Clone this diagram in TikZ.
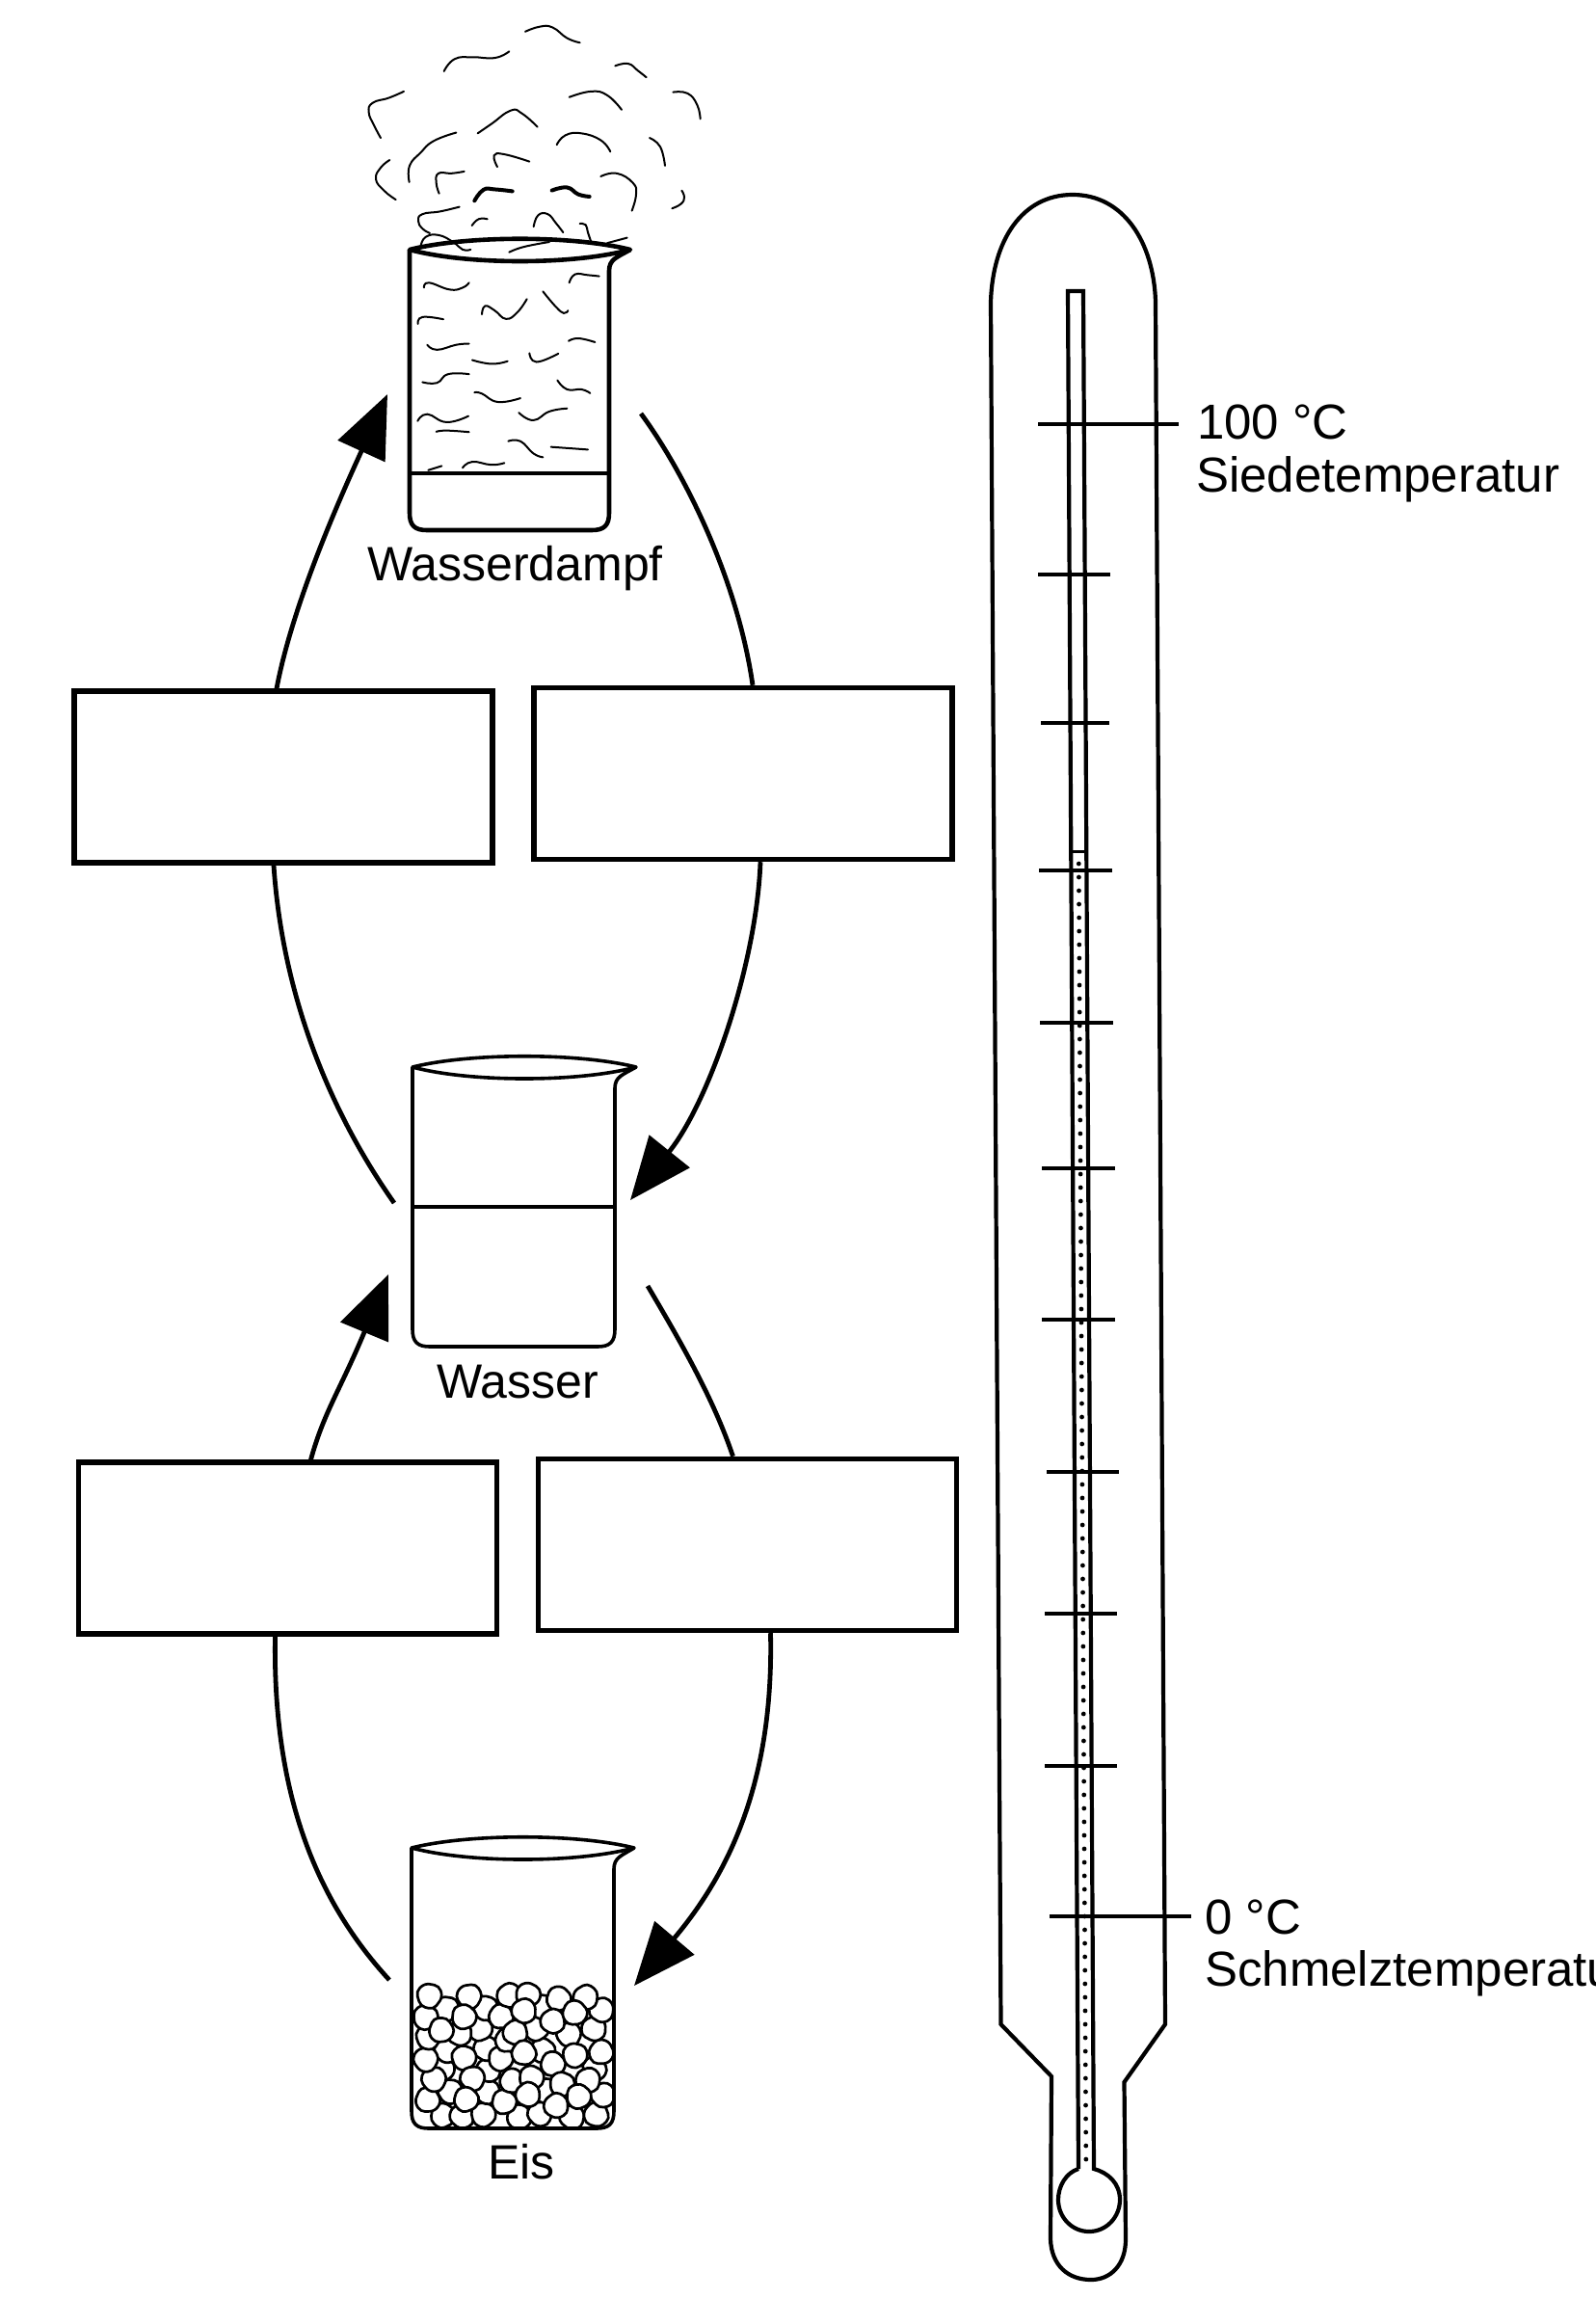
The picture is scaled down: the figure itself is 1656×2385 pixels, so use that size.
\documentclass[tikz,border=0pt]{standalone}
\usepackage{fontspec}
\setmainfont{Liberation Sans}
\usetikzlibrary{arrows.meta,calc}
\newcommand\glassbeaker[6]{%
  \draw[line width=#6pt,line join=round] (#1,#3) -- (#1,#5-18) .. controls (#1,#5-5) and (#1+5,#5) .. (#1+18,#5)
    -- (#2-18,#5) .. controls (#2-5,#5) and (#2,#5-5) .. (#2,#5-18)
    -- (#2,#3+22) .. controls (#2,#3+10) and (#2+8,#3+8) .. (#4,#3);
  \draw[line width=#6pt,line join=round] (#1,#3) .. controls (#1+60,#3-15) and (#4-60,#3-15) .. (#4,#3)
    .. controls (#4-60,#3+16) and (#1+60,#3+16) .. cycle;
}
\newcommand\wisp[1]{\draw[wisp] plot[smooth,tension=0.8] coordinates {#1};}
\newcommand\wispthick[1]{\draw[wisp,line width=4pt] plot[smooth,tension=0.8] coordinates {#1};}
\tikzset{
  wisp/.style={line width=2pt,line cap=round},
  blank/.style={draw,line width=5.4pt,inner sep=0pt,minimum width=434pt,minimum height=178pt},
  curve/.style={line width=4.8pt},
  headed/.style={curve,-{Triangle[length=65pt,width=53pt]}},
  caption/.style={anchor=base west,inner sep=0pt,text=black},
  tube/.style={line width=4.2pt,line join=miter},
  tick/.style={line width=4pt},
  lump/.style={draw,fill=white,line width=2.7pt,rounded corners=5pt}
}
\begin{document}
\begin{tikzpicture}[x=1pt,y=-1pt]
\useasboundingbox (0,0) rectangle (1656,2385);
\fill[white] (0,0) rectangle (1656,2385);
\clip (0,0) rectangle (1656,2385);

% blank boxes
\node[blank] (b1) at (294,806) {};
\node[blank] (b2) at (771,802.5) {};
\node[blank] (b3) at (298.5,1606) {};
\node[blank] (b4) at (775.5,1602.5) {};

% free ends
\coordinate (t1) at (402,409);
\coordinate (s2) at (665,429);
\coordinate (e1) at (409,1248);
\coordinate (t2) at (654,1245);
\coordinate (t3) at (403,1322);
\coordinate (s4) at (672,1334);
\coordinate (e3) at (404,2054);
\coordinate (t4) at (658,2060);

% connectors
\draw[headed] ([xshift=-7pt]b1.north) .. controls +(16,-84) and (348,527) .. (t1);
\draw[curve] (s2) .. controls (710,490) and (765,600) .. ([xshift=10pt]b2.north);
\draw[curve] ([xshift=-10pt]b1.south) .. controls (293,1030) and (340,1150) .. (e1);
\draw[headed] ([xshift=18pt]b2.south) .. controls (785,1000) and (736,1143) .. (t2);
\draw[headed] ([xshift=24pt]b3.north) .. controls (336,1465) and (353,1442) .. (t3);
\draw[curve] (s4) .. controls (705,1390) and (740,1450) .. ([xshift=-15pt]b4.north);
\draw[curve] ([xshift=-13pt]b3.south) .. controls (283,1850) and (322,1965) .. (e3);
\draw[headed] ([xshift=24pt]b4.south) .. controls (803,1850) and (755,1945) .. (t4);

% steam and vapour, in zoom coordinates
\begin{scope}[shift={(340,0)},x=0.33333pt,y=-0.39526pt]
\wisp{(615,83)(660,70)(700,72)(745,100)(785,112)}
\wisp{(362,187)(395,155)(450,150)(520,152)(565,135)}
\wisp{(895,173)(935,167)(965,185)(992,203)}
\wisp{(237,240)(190,257)(140,270)(128,295)(145,330)(165,362)}
\wisp{(752,255)(820,240)(870,250)(915,288)}
\wisp{(1075,242)(1120,245)(1150,275)(1160,312)}
\wisp{(467,350)(510,325)(570,290)(605,298)(653,333)}
\wisp{(400,348)(330,370)(290,400)(255,435)(254,478)}
\wisp{(713,380)(740,355)(790,350)(850,368)(880,398)}
\wisp{(1002,362)(1035,385)(1050,435)}
\wisp{(193,420)(165,440)(150,470)(175,500)(212,524)}
\wisp{(528,438)(518,408)(550,405)(628,424)}
\wisp{(425,450)(385,455)(345,455)(338,480)(347,508)}
\wispthick{(457,527)(485,498)(520,497)(575,502)}
\wispthick{(698,500)(745,492)(780,510)(815,516)}
\wisp{(850,463)(900,455)(950,480)(960,510)(947,553)}
\wisp{(1102,500)(1110,518)(1100,535)(1072,547)}
\wisp{(410,543)(350,555)(295,562)(282,580)(295,600)(318,612)}
\wisp{(449,592)(470,575)(497,575)}
\wisp{(641,595)(655,565)(685,562)(710,585)(733,610)}
\wisp{(785,587)(803,590)(810,610)(820,635)}
\wisp{(290,645)(305,622)(345,617)(390,635)(420,655)(445,655)}
\wisp{(565,662)(610,648)(690,635)}
\wisp{(870,638)(932,624)}
\wisp{(300,755)(315,742)(380,760)(420,755)(440,742)}
\wisp{(752,742)(770,720)(810,722)(845,725)}
\wisp{(281,850)(295,832)(360,838)}
\wisp{(480,825)(490,803)(520,815)(555,837)(590,820)(620,785)}
\wisp{(670,765)(710,805)(735,822)(748,815)}
\wisp{(310,905)(340,918)(400,905)(440,902)}
\wisp{(750,895)(780,888)(832,898)}
\wisp{(450,945)(510,955)(560,948)}
\wisp{(628,927)(650,950)(718,928)}
\wisp{(295,1003)(340,1005)(375,982)(440,982)}
\wisp{(715,998)(745,1022)(790,1022)(817,1032)}
\wisp{(457,1030)(480,1033)(530,1055)(600,1045)}
\wisp{(595,1083)(640,1103)(690,1080)(745,1072)}
\wisp{(280,1105)(310,1087)(370,1108)(438,1092)}
\wisp{(338,1133)(370,1130)(440,1134)}
\wisp{(562,1158)(600,1158)(640,1190)(670,1200)}
\wisp{(695,1173)(810,1180)}
\wisp{(313,1234)(355,1223)}
\wisp{(420,1228)(450,1212)(510,1220)(550,1215)}
\end{scope}

% beaker with steam
\glassbeaker{425}{632}{259}{654}{550}{4.6}
\draw[line width=4.6pt] (425,491) -- (632,491);
\node[caption] (lw1) at (381,602) {\fontsize{50}{50}\selectfont Wasserdampf};

% beaker with water
\glassbeaker{428}{638}{1107}{660}{1397}{3.6}
\draw[line width=3.6pt] (428,1252) -- (638,1252);
\node[caption] (lw2) at (453,1450) {\fontsize{50}{50}\selectfont Wasser};

% beaker with ice
\begin{scope}
\clip (427,1900) rectangle (637,2208);
\foreach \X/\Y in {
 180/945,240/945,305/940,415/948,480/940,580/950,657/940,
 130/895,318/870,370/900,495/865,678/880,200/870,
 175/800,320/800,650/800,580/810,150/830,
 190/740,312/737,490/740,672/748,125/768,360/768,
 135/700,295/675,470/672,648/675,380/710,230/690,
 190/610,310/610,490/607,672/617,125/637,360/637,
 138/572,260/572,385/572,445/570,540/582,622/575,
 172/678,405/685,570/690,522/650,590/623,243/637,432/618,
 243/765,432/748,522/782,590/755,
 270/830,395/835,455/825,550/845,630/835,
 252/895,442/878,530/912,600/885}
{
 \pgfmathsetmacro\ix{400+\X/3}
 \pgfmathsetmacro\iy{1880+\Y/3}
 \pgfmathsetmacro\ir{mod(\X*7+\Y*3,360)}
 \begin{scope}[shift={(\ix,\iy)},rotate=\ir]
  \draw[lump] (15,0) -- (9,11) -- (-6,13) -- (-13,3) -- (-8,-12) -- (6,-13) -- cycle;
 \end{scope}
}
\end{scope}
\glassbeaker{427}{637}{1917}{658}{2208}{3.6}
\node[caption] (lw3) at (506,2260) {\fontsize{50}{50}\selectfont Eis};

% thermometer
\draw[tube] (1028,313) .. controls (1030,250) and (1060,202) .. (1113,202)
  .. controls (1165,202) and (1197,250) .. (1199,313)
  -- (1209,2100) -- (1166.5,2160) -- (1168,2323)
  .. controls (1168,2350) and (1152,2365) .. (1132,2365)
  .. controls (1108,2365) and (1091,2350) .. (1090,2323)
  -- (1091,2154) -- (1038.5,2100) -- cycle;
\draw[tube] (1119,2250) -- (1108,302) -- (1124,302) -- (1135,2250)
  .. controls (1150,2254) and (1162,2265) .. (1162,2282)
  .. controls (1162,2300) and (1148,2315) .. (1130,2315)
  .. controls (1112,2315) and (1098,2300) .. (1098,2282)
  .. controls (1098,2268) and (1106,2254) .. (1119,2250);
\draw[line width=3pt] (1111,883) -- (1125,883);
\foreach \yy in {896,910,...,2246} {
  \pgfmathsetmacro\xx{1116+0.0056*(\yy-302)}
  \fill (\xx,\yy) circle[radius=2.4pt];
}
\draw[tick] (1077,440) -- (1223,440);
\draw[tick] (1077,596) -- (1152,596);
\draw[tick] (1080,750) -- (1151,750);
\draw[tick] (1078,903) -- (1154,903);
\draw[tick] (1079,1061) -- (1155,1061);
\draw[tick] (1081,1212) -- (1157,1212);
\draw[tick] (1081,1369) -- (1157,1369);
\draw[tick] (1086,1527) -- (1161,1527);
\draw[tick] (1084,1674) -- (1159,1674);
\draw[tick] (1084,1832) -- (1159,1832);
\draw[tick] (1089,1988) -- (1236,1988);

\node[caption] (t100) at (1242,455) {\fontsize{51}{51}\selectfont 100 °C};
\node[caption] (tsd) at (1241,510) {\fontsize{51}{51}\selectfont Siedetemperatur};
\node[caption] (t0) at (1250,2006) {\fontsize{51}{51}\selectfont 0 °C};
\node[caption] (tsm) at (1250,2060) {\fontsize{51}{51}\selectfont Schmelztemperatur};
\end{tikzpicture}
\end{document}
